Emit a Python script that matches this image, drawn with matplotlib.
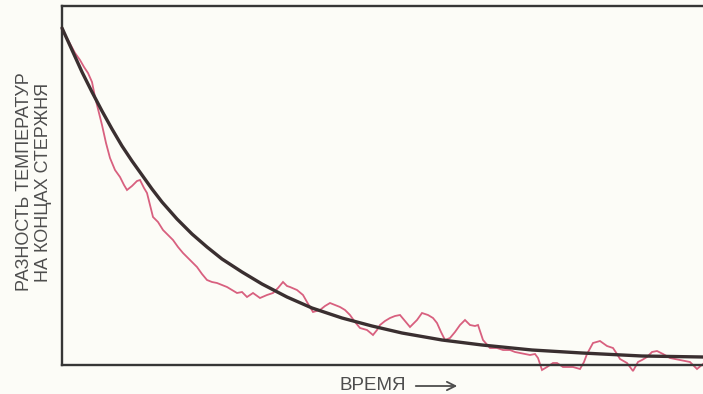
import matplotlib
matplotlib.use("Agg")
import matplotlib.pyplot as plt

plt.rcParams["font.family"] = ["Liberation Sans", "DejaVu Sans"]

# ── Data (arbitrary units) ────────────────────────────────────────────
# measured temperature difference (noisy, pink)
meas_t = [0, 6, 13, 18, 22, 26, 30, 33, 37, 40, 44, 48, 53, 58, 62, 65, 70, 75,
          78, 82, 85, 88, 91, 96, 101, 106, 111, 116, 121, 128, 135, 140, 145,
          150, 155, 160, 165, 170, 175, 180, 185, 191, 198, 205, 211, 216, 221,
          225, 228, 235, 241, 245, 251, 258, 263, 268, 273, 278, 283, 288, 293,
          298, 305, 311, 315, 318, 323, 328, 333, 338, 343, 348, 355, 360, 366,
          371, 375, 379, 383, 388, 393, 398, 403, 408, 413, 416, 421, 428, 435,
          441, 448, 453, 458, 463, 468, 473, 476, 480, 485, 491, 495, 501, 505,
          511, 518, 522, 525, 531, 538, 545, 551, 555, 558, 565, 571, 576, 580,
          585, 590, 595, 601, 608, 618, 623, 628, 635, 641]
meas_d = [335, 325, 312, 305, 298, 292, 283, 268, 252, 240, 222, 207, 195, 188,
          180, 175, 179, 184, 185, 177, 172, 160, 148, 143, 135, 130, 125, 118,
          112, 105, 98, 91, 85, 83, 82, 80, 78, 75, 72, 73, 68, 72, 67, 70, 72,
          77, 83, 79, 78, 75, 70, 63, 53, 55, 59, 62, 60, 58, 55, 50, 43, 37,
          35, 30, 35, 40, 44, 47, 49, 50, 44, 38, 45, 52, 50, 47, 42, 33, 25,
          27, 33, 40, 45, 40, 39, 40, 25, 17, 17, 15, 15, 13, 12, 11, 10, 11,
          7, -5, -2, 2, 2, -2, -2, -2, -4, 3, 11, 22, 24, 19, 17, 11, 6, 2, -6,
          3, 5, 8, 13, 14, 11, 7, 5, 4, 3, -4, 1]

# theoretical decay (smooth, dark)
theory_t = [0, 5, 10, 15, 20, 25, 30, 40, 50, 60, 70, 80, 90, 100, 115, 130,
            145, 160, 180, 200, 225, 250, 280, 310, 340, 380, 420, 470, 520,
            580, 641]
theory_d = [337, 326, 315, 304, 293, 283, 273, 254, 236, 219, 204, 190, 176,
            163, 146, 131, 118, 106, 93, 81, 68, 57, 47, 39, 32, 25, 20, 15, 12,
            9, 8]

BG = "#fcfcf7"
INK = "#4d4d4d"

fig = plt.figure(figsize=(7.03, 3.94), dpi=100, facecolor=BG)
ax = fig.add_axes([62 / 703, 29 / 394, 641 / 703, 359 / 394], facecolor=BG)

ax.plot(meas_t, meas_d, color="#d8607f", lw=1.3, clip_on=False, zorder=2,
        solid_joinstyle="miter")
ax.plot(theory_t, theory_d, color="#3a2f30", lw=2.4, solid_capstyle="round",
        solid_joinstyle="round", clip_on=False, zorder=3)

ax.set_xlim(0, 641)
ax.set_ylim(0, 359)
ax.set_xticks([])
ax.set_yticks([])
for side in ("left", "bottom", "top"):
    ax.spines[side].set_color("#363636")
    ax.spines[side].set_linewidth(1.7)
ax.spines["right"].set_visible(False)

fig.text(34 / 703, 1 - 182 / 394, "РАЗНОСТЬ ТЕМПЕРАТУР\nНА КОНЦАХ СТЕРЖНЯ",
         rotation=90, ha="center", va="center", fontsize=13,
         color=INK, linespacing=1.12, multialignment="center")

fig.text(373 / 703, 1 - 385 / 394, "ВРЕМЯ", ha="center", va="center",
         fontsize=13.5, color=INK)
fig.add_artist(matplotlib.patches.FancyArrowPatch(
    (413 / 703, 1 - 386 / 394), (460 / 703, 1 - 386 / 394),
    transform=fig.transFigure, arrowstyle="->,head_length=6,head_width=3",
    color=INK, lw=1.3, mutation_scale=1))

fig.savefig("out.png", dpi=100, facecolor=BG)
